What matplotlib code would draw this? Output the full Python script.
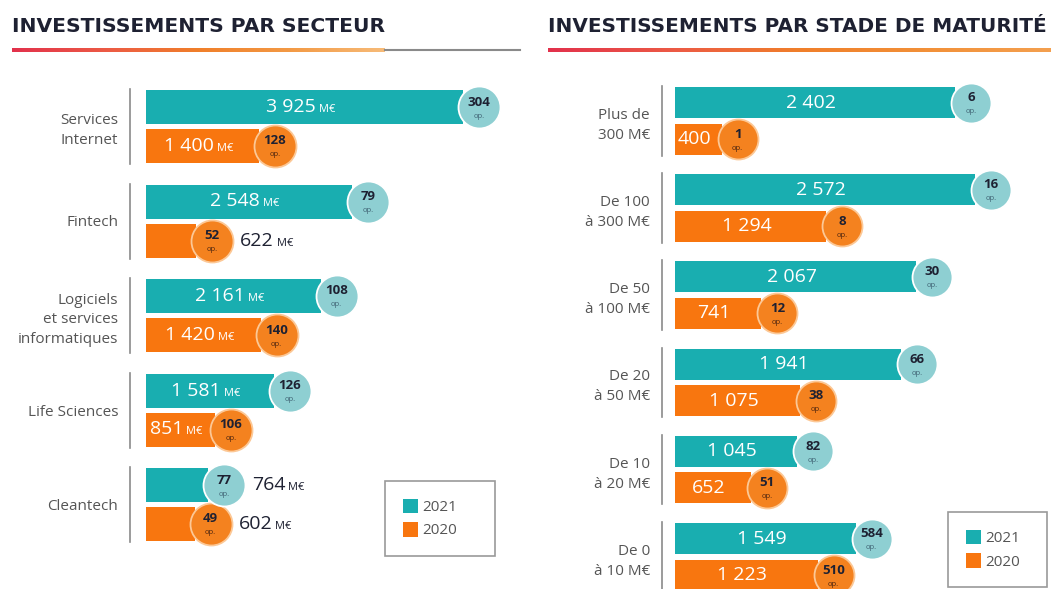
import matplotlib
matplotlib.use('Agg')
import matplotlib.pyplot as plt
import numpy as np
from matplotlib.transforms import ScaledTranslation
from matplotlib.offsetbox import TextArea, HPacker, AnnotationBbox
from matplotlib.patches import Patch
from matplotlib.colors import LinearSegmentedColormap

plt.rcParams['font.family'] = ['Open Sans', 'DejaVu Sans']

# ---------------- data ----------------
sectors = ['Services\nInternet', 'Fintech', 'Logiciels\net services\ninformatiques',
           'Life Sciences', 'Cleantech']
sector_2021 = [3925, 2548, 2161, 1581, 764]
sector_2020 = [1400, 622, 1420, 851, 602]
sector_ops_2021 = [304, 79, 108, 126, 77]
sector_ops_2020 = [128, 52, 140, 106, 49]

stages = ['Plus de\n300 M€', 'De 100\nà 300 M€', 'De 50\nà 100 M€', 'De 20\nà 50 M€',
          'De 10\nà 20 M€', 'De 0\nà 10 M€']
stage_2021 = [2402, 2572, 2067, 1941, 1045, 1549]
stage_2020 = [400, 1294, 741, 1075, 652, 1223]
stage_ops_2021 = [6, 16, 30, 66, 82, 584]
stage_ops_2020 = [1, 8, 12, 38, 51, 510]

years = ['2021', '2020']
titles = ['INVESTISSEMENTS PAR SECTEUR', 'INVESTISSEMENTS PAR STADE DE MATURITÉ']

# ---------------- style ----------------
TEAL = '#19aeb0'
ORANGE = '#f8760f'
TEAL_C = '#8ecfd2'
ORANGE_C = '#f4821f'
DARK = '#1e2132'
GRAY = '#555555'

W, H = 1051, 589
fig = plt.figure(figsize=(W / 100, H / 100), dpi=100)


def fx(px):
    return px / W


def fy(py):
    return 1 - py / H


overlay = fig.add_axes([0, 0, 1, 1], zorder=0)
overlay.axis('off')


def fmt(v):
    return f"{v:,}".replace(',', ' ')


def panel(left_px, right_px, top_px, xmax, cats, v21, v20, o21, o20,
          y0_21, y0_20, step, bar_h, unit, outside_thresh, label_pad,
          sep_x, circ_d, legend_box):
    n = len(cats)
    y21 = np.array([y0_21 + step * i for i in range(n)])
    y20 = np.array([y0_20 + step * i for i in range(n)])
    ax = fig.add_axes([fx(left_px), 0, fx(right_px - left_px), (H - top_px) / H], zorder=1)
    ax.set_xlim(0, xmax)
    ax.set_ylim(H, top_px)
    for s in ax.spines.values():
        s.set_visible(False)
    ax.set_xticks([])
    ax.set_yticks((y21 + y20) / 2)
    ax.set_yticklabels(cats)
    ax.tick_params(axis='y', length=0, pad=label_pad * 0.72, labelsize=11, labelcolor=GRAY)
    for lab in ax.get_yticklabels():
        lab.set_linespacing(1.45)
    ax.patch.set_alpha(0)

    ax.barh(y21, v21, height=bar_h, color=TEAL, zorder=2)
    ax.barh(y20, v20, height=bar_h, color=ORANGE, zorder=2)

    dx = 16
    s = (circ_d * 0.72) ** 2
    for ys, vals, ops, cc, ec, opc, z in [
            (y21, v21, o21, TEAL_C, 'white', '#3f6273', 4),
            (y20, v20, o20, ORANGE_C, '#fcc896', '#4a2410', 3)]:
        for y, v, o in zip(ys, vals, ops):
            tr = ax.transData + ScaledTranslation(dx / 100, 0, fig.dpi_scale_trans)
            ax.scatter([v], [y], s=s, color=cc, edgecolors=ec, linewidths=1.3,
                       transform=tr, zorder=z, clip_on=False)
            tr1 = ax.transData + ScaledTranslation(dx / 100, 5 / 100, fig.dpi_scale_trans)
            ax.text(v, y, str(o), transform=tr1, ha='center', va='center', fontsize=9.5,
                    fontweight='bold', color=DARK, zorder=z + 1, clip_on=False)
            tr2 = ax.transData + ScaledTranslation(dx / 100, -9 / 100, fig.dpi_scale_trans)
            ax.text(v, y, 'op.', transform=tr2, ha='center', va='center', fontsize=5.5,
                    color=opc, zorder=z + 1, clip_on=False)
            # value label
            outside = v < outside_thresh
            col = DARK if outside else 'white'
            parts = [TextArea(fmt(v), textprops=dict(color=col, fontsize=14))]
            if unit:
                parts.append(TextArea(' ' + unit, textprops=dict(color=col, fontsize=8)))
            pack = HPacker(children=parts, align='baseline', pad=0, sep=0)
            if outside:
                ab = AnnotationBbox(pack, (v, y), xycoords='data', xybox=((dx + 28) * 0.72, 0),
                                    boxcoords='offset points', frameon=False,
                                    box_alignment=(0, 0.5), zorder=6)
            else:
                ab = AnnotationBbox(pack, (v / 2, y), xycoords='data', xybox=(-4 * 0.72, 0),
                                    boxcoords='offset points', frameon=False,
                                    box_alignment=(0.5, 0.5), zorder=6)
            ax.add_artist(ab)

    # separators
    for a, b in zip(y21 - bar_h / 2, y20 + bar_h / 2):
        overlay.plot([sep_x, sep_x], [a - 1, b + 1], color='#8a8a8a', lw=1.2)

    # legend
    lx, ly, lw_, lh = legend_box
    leg = ax.legend(handles=[Patch(facecolor=TEAL, label=years[0]),
                             Patch(facecolor=ORANGE, label=years[1])],
                    loc='upper left', bbox_to_anchor=(fx(lx), fy(ly + lh), fx(lw_), lh / H),
                    bbox_transform=fig.transFigure, mode='expand', borderaxespad=0,
                    borderpad=1.15, labelspacing=0.45, handlelength=1.0, handleheight=1.1,
                    handletextpad=0.3, fontsize=11, labelcolor=GRAY, fancybox=False,
                    edgecolor='#9a9a9a', framealpha=1)
    leg.get_frame().set_linewidth(1.2)
    return ax


panel(146, 530, 70, 3925 * 384 / 317, sectors, sector_2021, sector_2020,
      sector_ops_2021, sector_ops_2020, 107, 146, 94.5, 34, 'M€', 800, 28,
      130, 42, (385, 481, 110, 75))

panel(675, 1051, 70, 2572 * 376 / 300, stages, stage_2021, stage_2020,
      stage_ops_2021, stage_ops_2020, 102.5, 139, 87.2, 31, '', 0, 25,
      662, 40, (948, 512, 99, 75))

# titles and gradient underlines
cmap1 = LinearSegmentedColormap.from_list('g1', ['#e2314c', '#ec5a45', '#f07f2a', '#f39a45', '#f7bb78'])
cmap2 = LinearSegmentedColormap.from_list('g2', ['#e2314c', '#ec5a45', '#f07f2a', '#f29038', '#f4a04f'])
grad = np.linspace(0, 1, 256).reshape(1, -1)
overlay.imshow(grad, extent=[12, 385, 52, 48], cmap=cmap1, aspect='auto')
overlay.plot([385, 520], [50, 50], color='#8a8a8a', lw=1.5)
overlay.imshow(grad, extent=[548, 1051, 52, 48], cmap=cmap2, aspect='auto')
overlay.set_xlim(0, W)
overlay.set_ylim(H, 0)

renderer = fig.canvas.get_renderer()
for x0, x1, t in [(12, 385, titles[0]), (548, 1045, titles[1])]:
    txt = overlay.text(x0, 27, t, fontsize=15, fontweight='bold', color=DARK,
                       va='center', ha='left', family='DejaVu Sans')
    wpx = txt.get_window_extent(renderer).width
    txt.set_fontsize(15 * (x1 - x0) / wpx)

fig.savefig('out.png', dpi=100)
